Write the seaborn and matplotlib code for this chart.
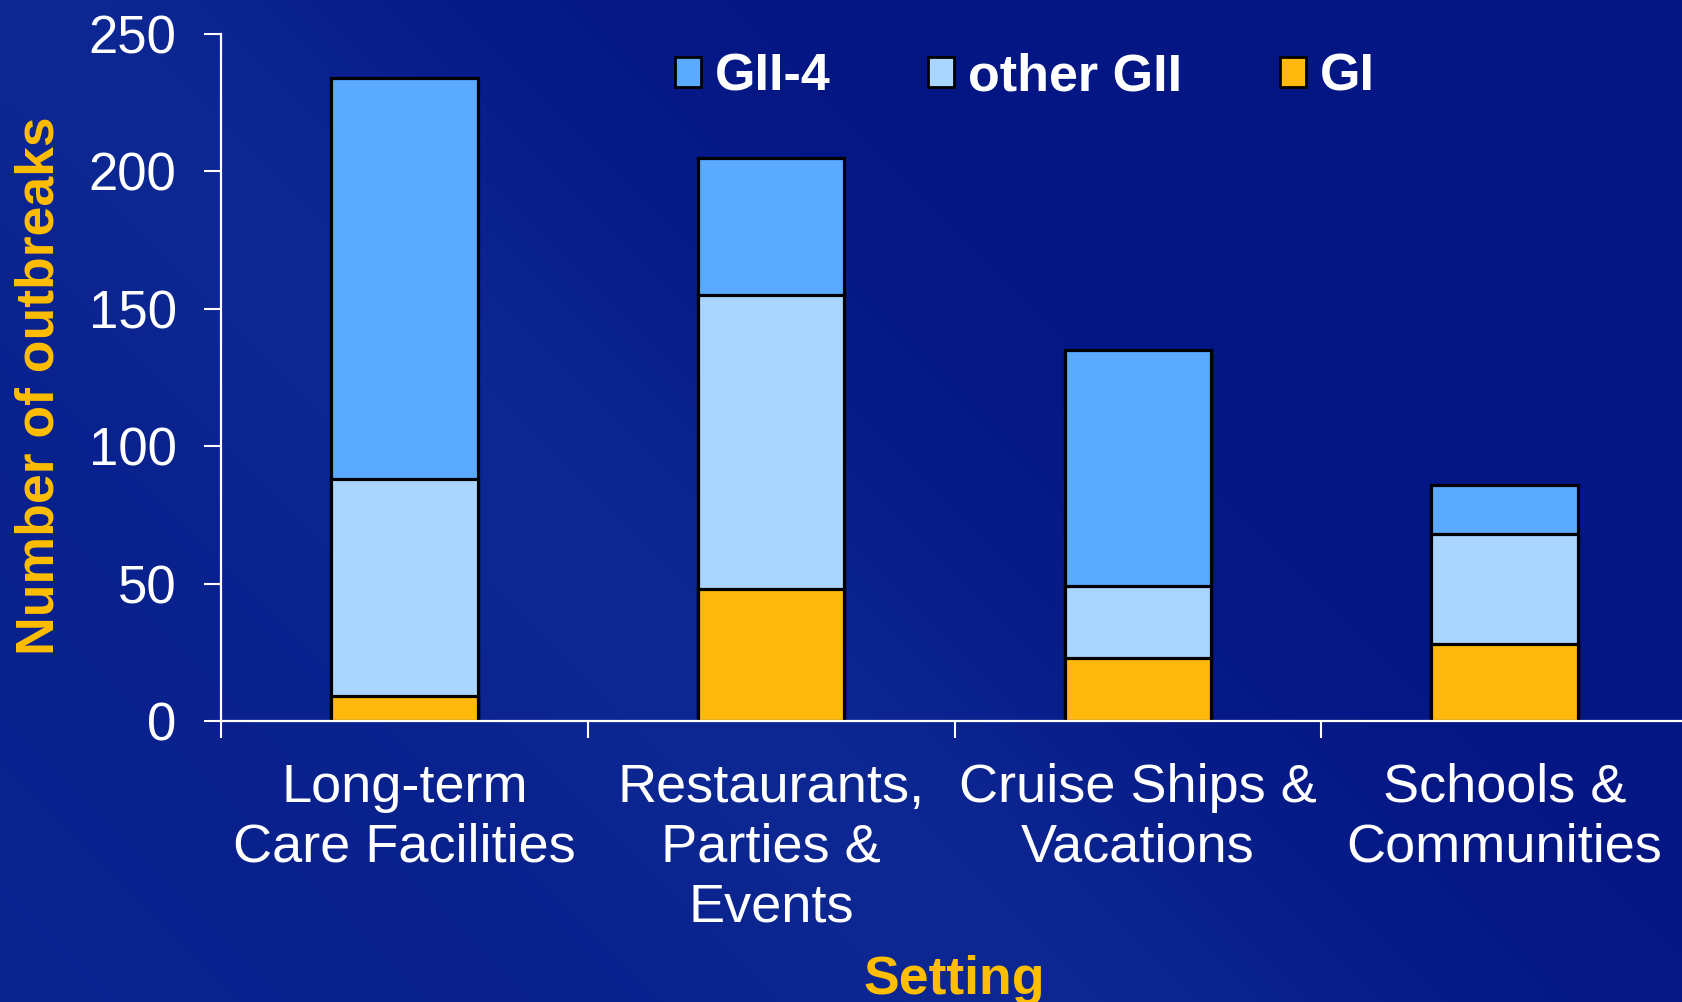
import numpy as np
import pandas as pd
import matplotlib
matplotlib.use("Agg")
import matplotlib.pyplot as plt
import seaborn as sns
from matplotlib.patches import Patch
from matplotlib.ticker import FixedLocator

# Chart data
settings = ["Long-term\nCare Facilities", "Restaurants,\nParties &\nEvents",
            "Cruise Ships &\nVacations", "Schools &\nCommunities"]
gi = [9, 48, 23, 28]
other_gii = [79, 107, 26, 40]
gii4 = [146, 50, 86, 18]
series_names = ["GII-4", "other GII", "GI"]
series_colors = ["#5AABFF", "#AAD5FF", "#FFB80C"]
y_ticks = [0, 50, 100, 150, 200, 250]

sns.set_style("ticks")
plt.rcParams["font.family"] = ["Liberation Sans", "DejaVu Sans"]

df = pd.DataFrame({"setting": settings, "GI": gi, "other GII": other_gii, "GII-4": gii4})
df["gi_top"] = df["GI"]
df["other_top"] = df["GI"] + df["other GII"]
df["total"] = df["other_top"] + df["GII-4"]

fig = plt.figure(figsize=(16.83, 10.02), dpi=100)

# background: blue gradient with soft diagonal sheen
bg = fig.add_axes([0, 0, 1, 1], zorder=-5)
h, w = 200, 340
yy, xx = np.mgrid[0:h, 0:w]
xs = xx / w
ys = yy / h  # 0 at top
diag = xs * 1.68 - ys
light = np.clip(0.55 - 0.45 * (diag + 0.4), 0, 1)
band = np.exp(-((diag - 0.05) / 0.35) ** 2) * 0.4
t = np.clip(light * 0.6 + band, 0, 1)
dark = np.array([4, 22, 132]) / 255
lite = np.array([18, 50, 156]) / 255
img = dark[None, None, :] * (1 - t[..., None]) + lite[None, None, :] * t[..., None]
bg.imshow(img, aspect="auto", extent=[0, 1, 0, 1], interpolation="bicubic")
bg.set_axis_off()

ax = fig.add_axes([221 / 1683, 1 - 721 / 1002, (1688 - 221) / 1683, (721 - 34) / 1002])
ax.set_facecolor("none")

common = dict(width=0.4, edgecolor="black", linewidth=2.3, ax=ax, saturation=1)
sns.barplot(data=df, x="setting", y="total", color=series_colors[0], **common)
sns.barplot(data=df, x="setting", y="other_top", color=series_colors[1], **common)
sns.barplot(data=df, x="setting", y="gi_top", color=series_colors[2], **common)

ax.set_xlim(-0.5, 3.5)
ax.set_ylim(0, 250)
ax.set_yticks(y_ticks)
ax.set_xlabel("")
ax.set_ylabel("")

for side in ["top", "right"]:
    ax.spines[side].set_visible(False)
for side in ["left", "bottom"]:
    ax.spines[side].set_color("white")
    ax.spines[side].set_linewidth(1.6)

ax.tick_params(axis="y", colors="white", length=12, width=1.5, pad=20, labelsize=38)
ax.tick_params(axis="x", which="major", length=0, pad=30, labelsize=39, colors="white")
ax.xaxis.set_minor_locator(FixedLocator([-0.5, 0.5, 1.5, 2.5]))
ax.tick_params(axis="x", which="minor", length=12, width=1.5, color="white")
for lab in ax.get_xticklabels():
    lab.set_linespacing(1.25)
    lab.set_va("top")

fig.text(40 / 1683, 1 - 386 / 1002, "Number of outbreaks", rotation=90, color="#FFBE00",
         fontsize=38.5, fontweight="bold", ha="center", va="center")
fig.text(954 / 1683, 1 - 994 / 1002, "Setting", color="#FFBE00",
         fontsize=38.5, fontweight="bold", ha="center", va="baseline")

handles = [Patch(facecolor=c, edgecolor="black", linewidth=2, label=n)
           for n, c in zip(series_names, series_colors)]
leg = ax.legend(handles=handles, ncol=3, loc="center", bbox_to_anchor=(0.548, 0.937),
                frameon=False, handlelength=0.5, handleheight=0.5, handletextpad=0.27,
                columnspacing=1.87, prop={"size": 37.5, "weight": "bold"})
for txt in leg.get_texts():
    txt.set_color("white")

fig.savefig("out.png", dpi=100)
